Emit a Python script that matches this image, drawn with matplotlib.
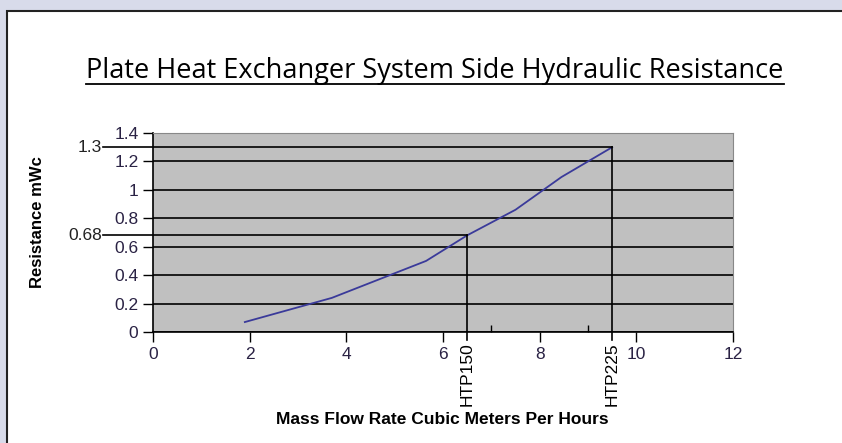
import numpy as np
import matplotlib.pyplot as plt
from matplotlib.patches import Rectangle

# data
flow = [1.9, 3.7, 5.65, 6.5, 7.5, 8.45, 9.5]          # m3/h
resistance = [0.07, 0.24, 0.5, 0.68, 0.86, 1.09, 1.3]  # mWc

marks = ["HTP150", "HTP225"]
mark_flow = [6.5, 9.5]
mark_res = [0.68, 1.3]

plt.rcParams['font.family'] = ['Liberation Sans', 'DejaVu Sans']

fig = plt.figure(figsize=(8.42, 4.43), dpi=100)
fig.patch.set_facecolor('#d8dbea')
bg = Rectangle((7/842, -0.01), 1.0, 1 - 11/443 + 0.01, transform=fig.transFigure,
               facecolor='white', edgecolor='#222222', linewidth=1.5, zorder=-10)
fig.add_artist(bg)

ax = fig.add_axes([153/842, 111/443, 580/842, 199/443])
ax.set_facecolor('#c0c0c0')

ax.set_xlim(0, 12)
ax.set_ylim(0, 1.4)
ax.set_xticks(np.arange(0, 13, 2))
ax.set_xticks([7, 9], minor=True)
ax.set_yticks(np.arange(0, 1.41, 0.2))
ax.set_yticklabels(['0', '0.2', '0.4', '0.6', '0.8', '1', '1.2', '1.4'])
ax.tick_params(axis='both', labelsize=12.5, labelcolor='#2a2244', direction='out', length=7, width=1)
ax.tick_params(axis='x', which='minor', direction='in', length=5, width=1)
ax.grid(axis='y', color='black', linewidth=1.2)
ax.set_axisbelow(True)

for s in ['top', 'right']:
    ax.spines[s].set_color('#888888')
for s in ['left', 'bottom']:
    ax.spines[s].set_color('black')
    ax.spines[s].set_linewidth(1.2)

ax.plot(flow, resistance, color='#3a3a9a', linewidth=1.3, zorder=3)

# reference lines for the two models
for name, fx, fy in zip(marks, mark_flow, mark_res):
    ax.plot([-1.03, fx], [fy, fy], color='black', linewidth=1.2, clip_on=False, zorder=3)
    ax.plot([fx, fx], [fy, -0.055], color='black', linewidth=1.2, clip_on=False, zorder=3)
    ax.text(-1.06, fy, str(fy), ha='right', va='center', fontsize=12.5, color='#222222')
    ax.text(fx, -0.07, name, rotation=90, ha='center', va='top', fontsize=12.5, color='black')

fig.text(442/842, 1 - 420/443, "Mass Flow Rate Cubic Meters Per Hours",
         ha='center', va='center', fontsize=12.5, fontweight='bold')
fig.text(38/842, 1 - 222/443, "Resistance mWc", rotation=90,
         ha='center', va='center', fontsize=12, fontweight='bold')

t = fig.text(435/842, 1 - 71/443, "Plate Heat Exchanger System Side Hydraulic Resistance",
             ha='center', va='center', fontsize=19.5, family=['Open Sans', 'DejaVu Sans'])
fig.canvas.draw()
bb = t.get_window_extent().transformed(fig.transFigure.inverted())
fig.add_artist(plt.Line2D([bb.x0, bb.x1], [bb.y0 + 0.002, bb.y0 + 0.002], color='black', linewidth=1.3))

fig.savefig("out.png", dpi=100, facecolor=fig.get_facecolor())
